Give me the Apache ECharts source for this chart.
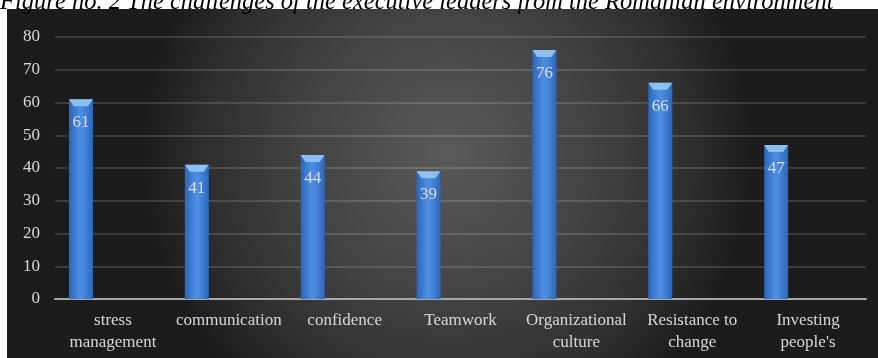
<!DOCTYPE html>
<html>
<head>
<meta charset="utf-8">
<script src="https://cdn.jsdelivr.net/npm/echarts@6/dist/echarts.min.js"></script>
<style>
html,body{margin:0;padding:0;background:#fff;}
#c{width:878px;height:358px;}
</style>
</head>
<body>
<div id="c"></div>
<script>
const titleText = "Figure no. 2 The challenges of the executive leaders from the Romanian environment";
const categories = ["stress\nmanagement", "communication", "confidence", "Teamwork", "Organizational\nculture", "Resistance to\nchange", "Investing\npeople's"];
const values = [61, 41, 44, 39, 76, 66, 47];
const emptySeries = ["-", "-", "-", "-", "-", "-", "-"];
const yTicks = [0, 10, 20, 30, 40, 50, 60, 70, 80];

const chart = echarts.init(document.getElementById('c'), null, {renderer: 'canvas'});
const serif = '"Liberation Serif", "DejaVu Serif", serif';
chart.setOption({
  animation: false,
  graphic: [
    {
      type: 'rect', z: -10, silent: true,
      shape: {x: 7, y: 9, width: 880, height: 360},
      style: {
        fill: {
          type: 'radial', x: 0.5, y: 0.4, r: 0.85,
          colorStops: [{offset: 0, color: '#5a5a5a'}, {offset: 0.45, color: '#444'}, {offset: 0.8, color: '#2e2e2e'}, {offset: 1, color: '#1c1c1c'}]
        }
      }
    },
    {
      type: 'text', left: 0, top: -10, silent: true,
      style: {text: titleText, font: 'italic 24.5px ' + serif, fill: '#000'}
    }
  ],
  grid: {left: 55, right: 12, top: 37, bottom: 59, containLabel: false},
  xAxis: {
    type: 'category', data: categories,
    axisLine: {show: true, lineStyle: {color: '#a8a8a8', width: 2}},
    axisTick: {show: false},
    axisLabel: {color: '#d8d8d8', fontFamily: serif, fontSize: 17, lineHeight: 22, margin: 11, interval: 0}
  },
  yAxis: {
    type: 'value', min: 0, max: 80, interval: 10,
    axisLine: {show: false}, axisTick: {show: false},
    axisLabel: {color: '#d8d8d8', fontFamily: serif, fontSize: 17, margin: 15,
      formatter: v => yTicks.includes(v) ? String(v) : ''},
    splitLine: {lineStyle: {color: 'rgba(255,255,255,0.14)', width: 2}}
  },
  series: [
    {
      type: 'bar', data: values, barWidth: 24, barGap: '166%',
      itemStyle: {
        color: {
          type: 'linear', x: 0, y: 0, x2: 1, y2: 0,
          colorStops: [{offset: 0, color: '#2d66b8'}, {offset: 0.45, color: '#4b8de2'}, {offset: 0.55, color: '#4b8de2'}, {offset: 1, color: '#2d66b8'}]
        }
      },
      label: {show: true, position: 'insideTop', distance: 15, color: '#dcdcdc', fontFamily: serif, fontSize: 17}
    },
    {type: 'bar', data: emptySeries, barWidth: 24},
    {
      type: 'pictorialBar', data: values, z: 3,
      symbol: 'path://M0,0 L24,0 L19,7 L5,7 Z', symbolSize: [24, 7],
      symbolPosition: 'end', symbolOffset: [-32, 0],
      itemStyle: {color: '#8cc0f2'}, silent: true
    }
  ]
});
</script>
</body>
</html>
